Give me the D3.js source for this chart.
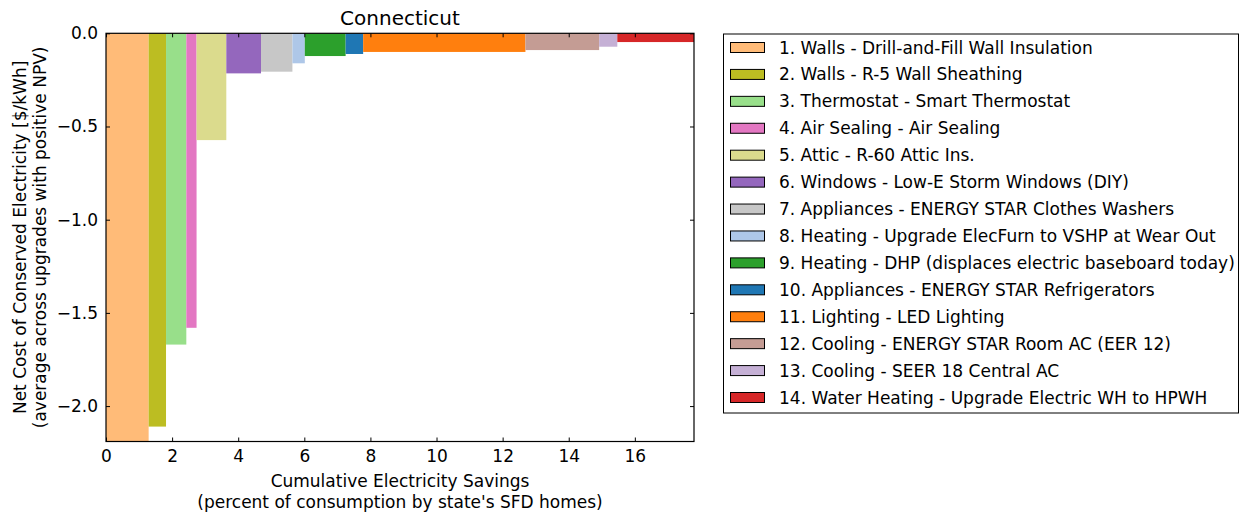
<!DOCTYPE html>
<html><head><meta charset="utf-8">
<script src="https://cdn.jsdelivr.net/npm/d3@7"></script>
<style>body{margin:0;background:#fff;} svg{display:block;font-family:"DejaVu Sans",sans-serif;}</style>
</head><body>
<script>
const labels = ["1. Walls - Drill-and-Fill Wall Insulation","2. Walls - R-5 Wall Sheathing","3. Thermostat - Smart Thermostat","4. Air Sealing - Air Sealing","5. Attic - R-60 Attic Ins.","6. Windows - Low-E Storm Windows (DIY)","7. Appliances - ENERGY STAR Clothes Washers","8. Heating - Upgrade ElecFurn to VSHP at Wear Out","9. Heating - DHP (displaces electric baseboard today)","10. Appliances - ENERGY STAR Refrigerators","11. Lighting - LED Lighting","12. Cooling - ENERGY STAR Room AC (EER 12)","13. Cooling - SEER 18 Central AC","14. Water Heating - Upgrade Electric WH to HPWH"];
// cumulative savings at right edge of each bar (percent)
const cumSavings = [1.29,1.816,2.43,2.74,3.64,4.69,5.64,6.015,7.25,7.78,12.69,14.92,15.47,17.79];
// net cost of conserved electricity ($/kWh)
const netCost = [-2.5,-2.11,-1.67,-1.58,-0.573,-0.215,-0.206,-0.161,-0.122,-0.111,-0.100,-0.090,-0.072,-0.047];
const colors = ["#ffbb78","#bcbd22","#98df8a","#e377c2","#dbdb8d","#9467bd","#c7c7c7","#aec7e8","#2ca02c","#1f77b4","#ff7f0e","#c49c94","#c5b0d5","#d62728"];
const xTicks = [0,2,4,6,8,10,12,14,16];
const yTicks = [0,-0.5,-1.0,-1.5,-2.0];
const xDomain = [0,17.79];
const yDomain = [-2.19,0];

const W=1245,H=514;
const svg=d3.select("body").append("svg").attr("width",W).attr("height",H);
const L=106,R=694,T=33.3,B=441.5;
const x=d3.scaleLinear().domain(xDomain).range([L,R]);
const y=d3.scaleLinear().domain(yDomain).range([B,T]);

svg.append("clipPath").attr("id","clip").append("rect").attr("x",L).attr("y",T).attr("width",R-L).attr("height",B-T);
const bars = labels.map((l,i)=>({x0:i?cumSavings[i-1]:0,x1:cumSavings[i],v:netCost[i],c:colors[i]}));
svg.append("g").attr("clip-path","url(#clip)").selectAll("rect").data(bars).join("rect")
  .attr("x",d=>x(d.x0)).attr("width",d=>x(d.x1)-x(d.x0))
  .attr("y",y(0)).attr("height",d=>y(d.v)-y(0)).attr("fill",d=>d.c);

const fs=17;
function style(g){g.select(".domain").remove();g.selectAll("text").attr("font-size",fs).attr("fill","#000").attr("font-family","DejaVu Sans");g.selectAll("line").attr("stroke","#000");}
svg.append("g").attr("transform",`translate(0,${B})`).call(d3.axisBottom(x).tickValues(xTicks).tickFormat(d3.format("d")).tickSize(-4).tickPadding(8)).call(style);
svg.append("g").attr("transform",`translate(0,${T})`).call(d3.axisTop(x).tickValues(xTicks).tickFormat("").tickSize(-4)).call(style);
svg.append("g").attr("transform",`translate(${L},0)`).call(d3.axisLeft(y).tickValues(yTicks).tickFormat(d=>d3.format(".1f")(d).replace("-","\u2212")).tickSize(-4).tickPadding(8)).call(style);
svg.append("g").attr("transform",`translate(${R},0)`).call(d3.axisRight(y).tickValues(yTicks).tickFormat("").tickSize(-4)).call(style);
svg.append("rect").attr("x",L).attr("y",T).attr("width",R-L).attr("height",B-T).attr("fill","none").attr("stroke","#000").attr("stroke-width",1.2);

svg.append("text").attr("x",(L+R)/2).attr("y",25).attr("text-anchor","middle").attr("font-size",20).text("Connecticut");
svg.append("text").attr("x",(L+R)/2).attr("y",487).attr("text-anchor","middle").attr("font-size",fs).text("Cumulative Electricity Savings");
svg.append("text").attr("x",(L+R)/2).attr("y",508).attr("text-anchor","middle").attr("font-size",fs).text("(percent of consumption by state's SFD homes)");
const yl=svg.append("text").attr("transform",`translate(26,${(T+B)/2}) rotate(-90)`).attr("text-anchor","middle").attr("font-size",fs);
yl.append("tspan").attr("x",0).attr("dy",0).text("Net Cost of Conserved Electricity [$/kWh]");
yl.append("tspan").attr("x",0).attr("dy",20).text("(average across upgrades with positive NPV)");

// legend
const lg=svg.append("g");
lg.append("rect").attr("x",723.5).attr("y",34).attr("width",515).attr("height",379).attr("fill","#fff").attr("stroke","#000").attr("stroke-width",1);
const rowY=d3.scaleLinear().domain([0,labels.length-1]).range([47.5,397.5]);
labels.forEach((l,i)=>{
  lg.append("rect").attr("x",730.5).attr("y",rowY(i)-5).attr("width",34).attr("height",10).attr("fill",colors[i]).attr("stroke","#000").attr("stroke-width",1);
  lg.append("text").attr("x",779).attr("y",rowY(i)+6).attr("font-size",fs).text(l);
});
</script>
</body></html>
